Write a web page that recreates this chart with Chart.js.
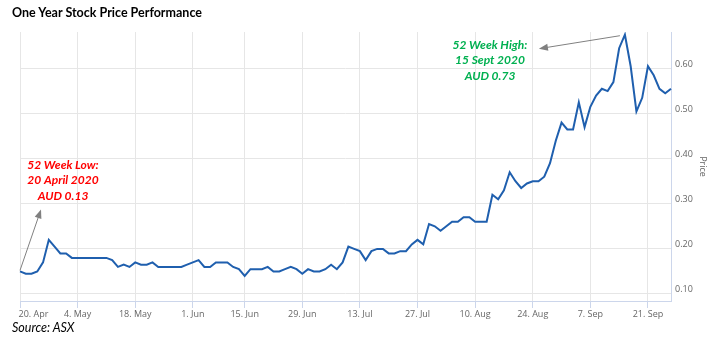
<!DOCTYPE html>
<html>
<head>
<meta charset="utf-8">
<script src="https://cdn.jsdelivr.net/npm/chart.js@4.4.0/dist/chart.umd.min.js"></script>
<style>
  html, body { margin: 0; padding: 0; background: #fff; }
  #wrap { position: relative; width: 714px; height: 343px; }
  #title { position: absolute; left: 12px; top: 5px; font: bold 12.5px Lato, sans-serif; color: #000; }
  #source { position: absolute; left: 12px; top: 320px; font: italic 12.5px Lato, sans-serif; color: #000; }
  canvas { position: absolute; left: 0; top: 0; }
</style>
</head>
<body>
<div id="wrap">
  <canvas id="priceChart" width="714" height="343"></canvas>
  <div id="title">One Year Stock Price Performance</div>
  <div id="source">Source: ASX</div>
</div>
<script>
// trading days 20 Apr 2020 - 25 Sep 2020 (ASX closed 8 June)
const startDay = '2020-04-20';
const endDay = '2020-09-25';
const holidays = ['2020-06-08'];

const tickDates = ['2020-04-20', '2020-05-04', '2020-05-18', '2020-06-01', '2020-06-15', '2020-06-29',
  '2020-07-13', '2020-07-27', '2020-08-10', '2020-08-24', '2020-09-07', '2020-09-21'];
const tickLabels = ['20. Apr', '4. May', '18. May', '1. Jun', '15. Jun', '29. Jun',
  '13. Jul', '27. Jul', '10. Aug', '24. Aug', '7. Sep', '21. Sep'];

// closing price, AUD
const prices = [
  0.15, 0.145, 0.145, 0.15, 0.17, 0.22, 0.205, 0.19, 0.19, 0.18,
  0.18, 0.18, 0.18, 0.18, 0.18, 0.18, 0.175, 0.16, 0.165, 0.16,
  0.17, 0.165, 0.165, 0.17, 0.16, 0.16, 0.16, 0.16, 0.16, 0.165,
  0.17, 0.175, 0.16, 0.16, 0.17, 0.17, 0.17, 0.16, 0.155, 0.14,
  0.155, 0.155, 0.155, 0.16, 0.15, 0.15, 0.155, 0.16, 0.155, 0.145,
  0.155, 0.15, 0.15, 0.155, 0.165, 0.155, 0.17, 0.205, 0.2, 0.195,
  0.175, 0.195, 0.2, 0.2, 0.19, 0.19, 0.195, 0.195, 0.21, 0.22,
  0.21, 0.255, 0.25, 0.24, 0.25, 0.26, 0.26, 0.27, 0.27, 0.26,
  0.26, 0.26, 0.32, 0.31, 0.33, 0.37, 0.35, 0.335, 0.345, 0.35,
  0.35, 0.36, 0.39, 0.44, 0.48, 0.465, 0.465, 0.525, 0.47, 0.515,
  0.54, 0.555, 0.55, 0.57, 0.645, 0.675, 0.605, 0.505, 0.535, 0.605,
  0.585, 0.555, 0.545, 0.555
];

const yTicks = [0.1, 0.2, 0.3, 0.4, 0.5, 0.6];

const lowNote = ['52 Week Low:', '20 April 2020', 'AUD 0.13'];
const highNote = ['52 Week High:', '15 Sept 2020', 'AUD 0.73'];

const days = [];
for (let d = new Date(startDay + 'T00:00:00Z'); d <= new Date(endDay + 'T00:00:00Z'); d.setUTCDate(d.getUTCDate() + 1)) {
  const iso = d.toISOString().slice(0, 10);
  const wd = d.getUTCDay();
  if (wd === 0 || wd === 6 || holidays.includes(iso)) continue;
  days.push(iso);
}
const tickIdx = tickDates.map(t => days.indexOf(t));

const axisFont = { family: 'Open Sans', size: 9 };

function arrow(ctx, x1, y1, x2, y2) {
  const a = Math.atan2(y2 - y1, x2 - x1);
  ctx.beginPath();
  ctx.moveTo(x1, y1);
  ctx.lineTo(x2 - 6 * Math.cos(a), y2 - 6 * Math.sin(a));
  ctx.stroke();
  ctx.beginPath();
  ctx.moveTo(x2, y2);
  ctx.lineTo(x2 - 9 * Math.cos(a) + 3.5 * Math.sin(a), y2 - 9 * Math.sin(a) - 3.5 * Math.cos(a));
  ctx.lineTo(x2 - 9 * Math.cos(a) - 3.5 * Math.sin(a), y2 - 9 * Math.sin(a) + 3.5 * Math.cos(a));
  ctx.closePath();
  ctx.fill();
}

function note(ctx, lines, cx, y0, color) {
  ctx.fillStyle = color;
  ctx.font = 'italic bold 12px Lato';
  ctx.textAlign = 'center';
  ctx.textBaseline = 'middle';
  lines.forEach((t, i) => ctx.fillText(t, cx, y0 + i * 15.5));
}

const notes = {
  id: 'notes',
  afterDraw(chart) {
    const { ctx, scales: { x, y } } = chart;
    const lowI = 0;
    const highI = prices.indexOf(Math.max(...prices));
    ctx.save();
    ctx.strokeStyle = '#808080';
    ctx.fillStyle = '#808080';
    ctx.lineWidth = 1;
    const lx = x.getPixelForValue(lowI), ly = y.getPixelForValue(prices[lowI]);
    arrow(ctx, lx, ly - 1, lx + 21, ly - 62);
    const hx = x.getPixelForValue(highI) - 5, hy = y.getPixelForValue(prices[highI]) + 1;
    arrow(ctx, hx, hy, hx - 81, hy + 13);
    note(ctx, lowNote, 63, 165, '#ff0000');
    note(ctx, highNote, 490, 45, '#00b050');
    ctx.restore();
  }
};

new Chart(document.getElementById('priceChart').getContext('2d'), {
  type: 'line',
  data: {
    labels: days,
    datasets: [{
      label: 'Price',
      data: prices,
      borderColor: '#1f5fae',
      borderWidth: 2,
      pointRadius: 0,
      tension: 0,
      fill: false
    }]
  },
  options: {
    responsive: false,
    animation: false,
    devicePixelRatio: 1,
    layout: { padding: { left: 20, top: 32, right: 0, bottom: 0 } },
    plugins: { legend: { display: false }, tooltip: { enabled: false } },
    scales: {
      x: {
        type: 'category',
        afterBuildTicks: s => { s.ticks = tickIdx.map(i => ({ value: i })); },
        afterFit: s => { s.height = 42; s.paddingLeft = 0; s.paddingRight = 0; },
        ticks: {
          // first label is pushed inside the plot edge
          callback: (v, i) => (i === 0 ? '\u2002'.repeat(6) : '') + tickLabels[i],
          autoSkip: false,
          maxRotation: 0,
          color: '#666',
          font: axisFont,
          padding: 1
        },
        grid: { color: '#e6e6e6', tickColor: '#ccd6eb', tickLength: 7 },
        border: { color: '#ccd6eb' }
      },
      y: {
        position: 'right',
        min: 0.0844,
        max: 0.681,
        afterBuildTicks: s => { s.ticks = yTicks.map(v => ({ value: v })); },
        afterFit: s => { s.width = 43; },
        ticks: {
          callback: v => v.toFixed(2),
          color: '#666',
          font: axisFont,
          padding: 4,
          labelOffset: -4.5
        },
        grid: { color: '#e6e6e6', drawTicks: false },
        border: { color: '#ccd6eb' },
        title: { display: true, text: 'Price', color: '#666', font: axisFont, padding: { top: 6, bottom: 0 } }
      }
    }
  },
  plugins: [notes]
});
</script>
</body>
</html>
